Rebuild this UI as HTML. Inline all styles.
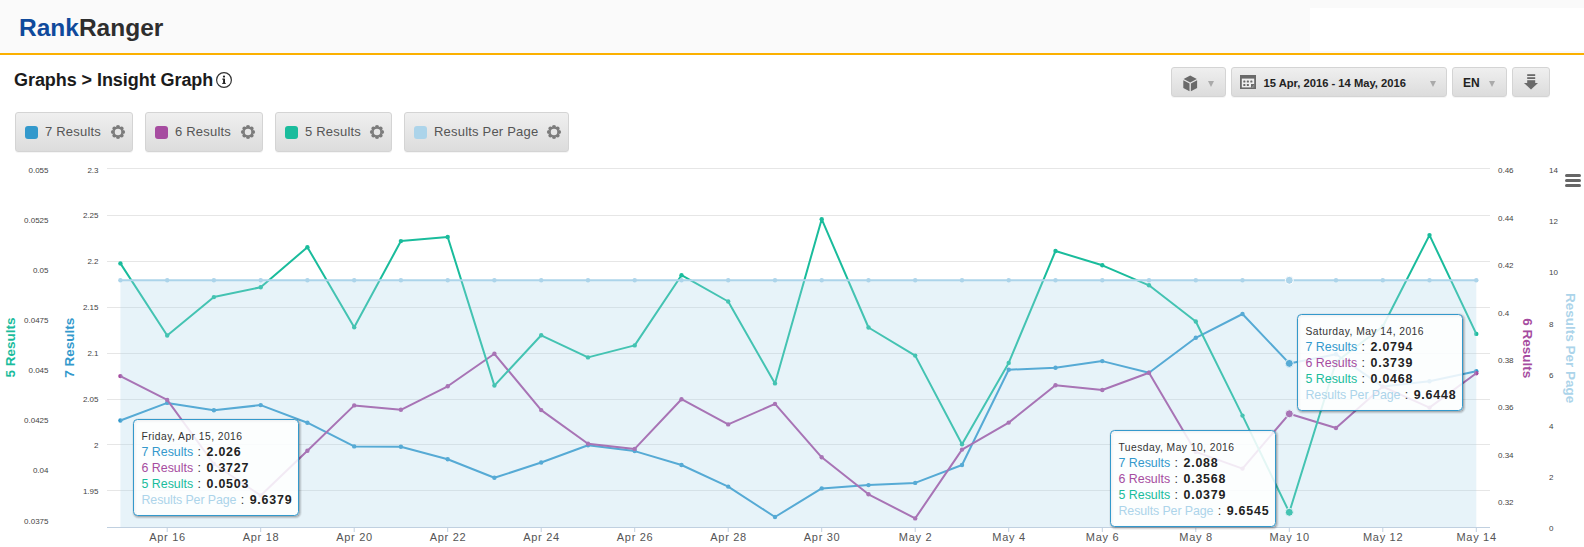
<!DOCTYPE html>
<html><head><meta charset="utf-8">
<style>
*{margin:0;padding:0;box-sizing:border-box}
html,body{width:1584px;height:547px;overflow:hidden;background:#fff;font-family:"Liberation Sans",sans-serif}
svg text{font-family:"Liberation Sans",sans-serif}
.hdr{position:absolute;left:0;top:0;width:1584px;height:53px;background:#fafafa}
.hdr .wh{position:absolute;left:1310px;top:8px;width:274px;height:43px;background:#fff}
.hdr .ln{position:absolute;left:0;top:53px;width:1584px;height:2px;background:#fbb000}
.logo{position:absolute;left:19px;top:13px;font-size:24.5px;font-weight:bold;letter-spacing:0px;white-space:nowrap;line-height:30px}
.logo .a{color:#0f4a9c}.logo .b{color:#2e2e2e}
.title{position:absolute;left:14px;top:69px;font-size:18px;font-weight:bold;color:#1b1b1b;white-space:nowrap;line-height:22px;letter-spacing:-0.06px}
.btn{position:absolute;border:1px solid #d4d4d4;border-radius:3px;background:linear-gradient(#efefef,#dcdcdc);box-shadow:0 1px 0 rgba(0,0,0,0.04)}
.lg{top:112px;height:40px}
.lg .sq{position:absolute;left:9px;top:13px;width:13px;height:13px;border-radius:3px}
.lg .tx{position:absolute;left:29px;top:11px;font-size:13px;color:#555;white-space:nowrap;line-height:16px;letter-spacing:0.2px}
.lg svg{position:absolute;top:12px}
.tb{top:67px;height:30px}
.arr{position:absolute;top:13px;width:0;height:0;border-left:3.5px solid transparent;border-right:3.5px solid transparent;border-top:6px solid #aaa}
</style></head><body>
<div class="hdr"><div class="wh"></div><div class="ln"></div>
<div class="logo"><span class="a">Rank</span><span class="b">Ranger</span></div></div>
<div class="title">Graphs &gt; Insight Graph</div>
<svg style="position:absolute;left:216px;top:72px" width="16" height="16" viewBox="0 0 16 16"><circle cx="8" cy="8" r="7.4" fill="none" stroke="#333" stroke-width="1.2"/><circle cx="8" cy="4.6" r="1.1" fill="#222"/><rect x="7.1" y="6.6" width="1.9" height="5" fill="#222"/><rect x="6.2" y="10.9" width="3.6" height="1" fill="#222"/><rect x="6.2" y="6.6" width="1.5" height="1" fill="#222"/></svg>

<!-- legend buttons -->
<div class="btn lg" style="left:15px;width:118px"><div class="sq" style="background:#3399cc"></div><div class="tx">7 Results</div><svg style="position:absolute;right:6px;top:11px" width="16" height="16" viewBox="-8 -8 16 16"><g fill="#7b7b7b"><circle r="4.4"/><circle cx="5.05" cy="0.00" r="2.05"/><circle cx="3.57" cy="3.57" r="2.05"/><circle cx="0.00" cy="5.05" r="2.05"/><circle cx="-3.57" cy="3.57" r="2.05"/><circle cx="-5.05" cy="0.00" r="2.05"/><circle cx="-3.57" cy="-3.57" r="2.05"/><circle cx="-0.00" cy="-5.05" r="2.05"/><circle cx="3.57" cy="-3.57" r="2.05"/></g><circle r="3.25" fill="#e6e6e6"/></svg></div>
<div class="btn lg" style="left:145px;width:118px"><div class="sq" style="background:#a64ca0"></div><div class="tx">6 Results</div><svg style="position:absolute;right:6px;top:11px" width="16" height="16" viewBox="-8 -8 16 16"><g fill="#7b7b7b"><circle r="4.4"/><circle cx="5.05" cy="0.00" r="2.05"/><circle cx="3.57" cy="3.57" r="2.05"/><circle cx="0.00" cy="5.05" r="2.05"/><circle cx="-3.57" cy="3.57" r="2.05"/><circle cx="-5.05" cy="0.00" r="2.05"/><circle cx="-3.57" cy="-3.57" r="2.05"/><circle cx="-0.00" cy="-5.05" r="2.05"/><circle cx="3.57" cy="-3.57" r="2.05"/></g><circle r="3.25" fill="#e6e6e6"/></svg></div>
<div class="btn lg" style="left:275px;width:117px"><div class="sq" style="background:#1abc9c"></div><div class="tx">5 Results</div><svg style="position:absolute;right:6px;top:11px" width="16" height="16" viewBox="-8 -8 16 16"><g fill="#7b7b7b"><circle r="4.4"/><circle cx="5.05" cy="0.00" r="2.05"/><circle cx="3.57" cy="3.57" r="2.05"/><circle cx="0.00" cy="5.05" r="2.05"/><circle cx="-3.57" cy="3.57" r="2.05"/><circle cx="-5.05" cy="0.00" r="2.05"/><circle cx="-3.57" cy="-3.57" r="2.05"/><circle cx="-0.00" cy="-5.05" r="2.05"/><circle cx="3.57" cy="-3.57" r="2.05"/></g><circle r="3.25" fill="#e6e6e6"/></svg></div>
<div class="btn lg" style="left:404px;width:165px"><div class="sq" style="background:#acd4ea"></div><div class="tx">Results Per Page</div><svg style="position:absolute;right:6px;top:11px" width="16" height="16" viewBox="-8 -8 16 16"><g fill="#7b7b7b"><circle r="4.4"/><circle cx="5.05" cy="0.00" r="2.05"/><circle cx="3.57" cy="3.57" r="2.05"/><circle cx="0.00" cy="5.05" r="2.05"/><circle cx="-3.57" cy="3.57" r="2.05"/><circle cx="-5.05" cy="0.00" r="2.05"/><circle cx="-3.57" cy="-3.57" r="2.05"/><circle cx="-0.00" cy="-5.05" r="2.05"/><circle cx="3.57" cy="-3.57" r="2.05"/></g><circle r="3.25" fill="#e6e6e6"/></svg></div>

<!-- toolbar -->
<div class="btn tb" style="left:1171px;width:55px">
<svg style="position:absolute;left:11px;top:7px" width="15" height="17" viewBox="0 0 15 17"><path d="M7.2 0.6 L13.8 4 L7.2 7.4 L0.6 4 Z" fill="#6a6a6a"/><path d="M0.3 5.3 L6.5 8.5 L6.5 16.3 L0.3 13.1 Z" fill="#6a6a6a"/><path d="M14.1 5.3 L7.9 8.5 L7.9 16.3 L14.1 13.1 Z" fill="#6a6a6a"/></svg>
<div class="arr" style="left:36px"></div></div>
<div class="btn tb" style="left:1231px;width:216px">
<svg style="position:absolute;left:8px;top:7px" width="17" height="15" viewBox="0 0 17 15"><rect x="0" y="0" width="16" height="14" fill="#6a6a6a"/><rect x="1.8" y="3.6" width="12.4" height="8.8" fill="#f0f0f0"/><g fill="#6a6a6a"><rect x="3.3" y="5.5" width="2.1" height="2.1" rx="0.5"/><rect x="6.8" y="5.5" width="2.1" height="2.1" rx="0.5"/><rect x="10.3" y="5.5" width="2.1" height="2.1" rx="0.5"/><rect x="3.3" y="8.9" width="2.1" height="2.1" rx="0.5"/><rect x="6.8" y="8.9" width="2.1" height="2.1" rx="0.5"/><rect x="11" y="9" width="3.5" height="3.6"/></g><path d="M12.3 12.2 L13.6 10.3 L13.9 10.6 L12.8 12.3 Z" fill="#eee"/></svg>
<div style="position:absolute;left:31.5px;top:8px;font-size:11.2px;font-weight:bold;color:#222;white-space:nowrap;line-height:14px">15 Apr, 2016 - 14 May, 2016</div>
<div class="arr" style="left:198px"></div></div>
<div class="btn tb" style="left:1452px;width:55px">
<div style="position:absolute;left:10px;top:8px;font-size:12px;font-weight:bold;color:#222;line-height:15px">EN</div>
<div class="arr" style="left:36px"></div></div>
<div class="btn tb" style="left:1512px;width:38px">
<svg style="position:absolute;left:11px;top:6px" width="15" height="17" viewBox="0 0 15 17"><g fill="#6a6a6a"><rect x="3.2" y="0.2" width="8" height="1.8"/><rect x="3.2" y="3.2" width="8" height="1.8"/><rect x="3.2" y="6.2" width="8" height="3"/><path d="M0 9 L14 9 L7 15.6 Z"/></g></svg>
</div>
<svg width="1584" height="547" viewBox="0 0 1584 547" style="position:absolute;left:0;top:0">
<rect x="107" y="168" width="1383" height="1" fill="#e6e6e6"/>
<rect x="107" y="215" width="1383" height="1" fill="#e6e6e6"/>
<rect x="107" y="261" width="1383" height="1" fill="#e6e6e6"/>
<rect x="107" y="307" width="1383" height="1" fill="#e6e6e6"/>
<rect x="107" y="353" width="1383" height="1" fill="#e6e6e6"/>
<rect x="107" y="399" width="1383" height="1" fill="#e6e6e6"/>
<rect x="107" y="444" width="1383" height="1" fill="#e6e6e6"/>
<rect x="107" y="490" width="1383" height="1" fill="#e6e6e6"/>
<rect x="107" y="527" width="1383" height="1" fill="#c0d0e0"/>
<rect x="166.7" y="528" width="1" height="4" fill="#c0d0e0"/>
<rect x="260.2" y="528" width="1" height="4" fill="#c0d0e0"/>
<rect x="353.7" y="528" width="1" height="4" fill="#c0d0e0"/>
<rect x="447.2" y="528" width="1" height="4" fill="#c0d0e0"/>
<rect x="540.7" y="528" width="1" height="4" fill="#c0d0e0"/>
<rect x="634.2" y="528" width="1" height="4" fill="#c0d0e0"/>
<rect x="727.7" y="528" width="1" height="4" fill="#c0d0e0"/>
<rect x="821.2" y="528" width="1" height="4" fill="#c0d0e0"/>
<rect x="914.7" y="528" width="1" height="4" fill="#c0d0e0"/>
<rect x="1008.2" y="528" width="1" height="4" fill="#c0d0e0"/>
<rect x="1101.8" y="528" width="1" height="4" fill="#c0d0e0"/>
<rect x="1195.3" y="528" width="1" height="4" fill="#c0d0e0"/>
<rect x="1288.8" y="528" width="1" height="4" fill="#c0d0e0"/>
<rect x="1382.3" y="528" width="1" height="4" fill="#c0d0e0"/>
<rect x="1475.8" y="528" width="1" height="4" fill="#c0d0e0"/>
<path d="M120.4 420.5 L167.2 402.9 L213.9 410.3 L260.7 405.1 L307.4 422.7 L354.2 446.4 L400.9 446.7 L447.7 459.2 L494.4 477.8 L541.2 462.5 L588.0 445.3 L634.7 451.1 L681.5 465.0 L728.2 486.6 L775.0 517.0 L821.7 488.4 L868.5 485.1 L915.2 482.9 L962.0 465.0 L1008.7 369.7 L1055.5 367.7 L1102.3 361.1 L1149.0 372.8 L1195.8 337.8 L1242.5 314.0 L1289.3 363.4 L1336.0 354.2 L1382.8 386.6 L1429.5 381.3 L1476.3 371.3" fill="none" stroke="#3399cc" stroke-width="2" stroke-linejoin="round" stroke-linecap="round"/>
<circle cx="120.4" cy="420.5" r="2.2" fill="#3399cc"/><circle cx="167.2" cy="402.9" r="2.2" fill="#3399cc"/><circle cx="213.9" cy="410.3" r="2.2" fill="#3399cc"/><circle cx="260.7" cy="405.1" r="2.2" fill="#3399cc"/><circle cx="307.4" cy="422.7" r="2.2" fill="#3399cc"/><circle cx="354.2" cy="446.4" r="2.2" fill="#3399cc"/><circle cx="400.9" cy="446.7" r="2.2" fill="#3399cc"/><circle cx="447.7" cy="459.2" r="2.2" fill="#3399cc"/><circle cx="494.4" cy="477.8" r="2.2" fill="#3399cc"/><circle cx="541.2" cy="462.5" r="2.2" fill="#3399cc"/><circle cx="588.0" cy="445.3" r="2.2" fill="#3399cc"/><circle cx="634.7" cy="451.1" r="2.2" fill="#3399cc"/><circle cx="681.5" cy="465.0" r="2.2" fill="#3399cc"/><circle cx="728.2" cy="486.6" r="2.2" fill="#3399cc"/><circle cx="775.0" cy="517.0" r="2.2" fill="#3399cc"/><circle cx="821.7" cy="488.4" r="2.2" fill="#3399cc"/><circle cx="868.5" cy="485.1" r="2.2" fill="#3399cc"/><circle cx="915.2" cy="482.9" r="2.2" fill="#3399cc"/><circle cx="962.0" cy="465.0" r="2.2" fill="#3399cc"/><circle cx="1008.7" cy="369.7" r="2.2" fill="#3399cc"/><circle cx="1055.5" cy="367.7" r="2.2" fill="#3399cc"/><circle cx="1102.3" cy="361.1" r="2.2" fill="#3399cc"/><circle cx="1149.0" cy="372.8" r="2.2" fill="#3399cc"/><circle cx="1195.8" cy="337.8" r="2.2" fill="#3399cc"/><circle cx="1242.5" cy="314.0" r="2.2" fill="#3399cc"/><circle cx="1336.0" cy="354.2" r="2.2" fill="#3399cc"/><circle cx="1382.8" cy="386.6" r="2.2" fill="#3399cc"/><circle cx="1429.5" cy="381.3" r="2.2" fill="#3399cc"/><circle cx="1476.3" cy="371.3" r="2.2" fill="#3399cc"/>
<path d="M120.4 376.1 L167.2 399.9 L213.9 464.0 L260.7 495.5 L307.4 450.7 L354.2 405.4 L400.9 409.8 L447.7 386.3 L494.4 353.8 L541.2 410.1 L588.0 443.8 L634.7 448.9 L681.5 399.2 L728.2 424.4 L775.0 403.9 L821.7 457.3 L868.5 494.3 L915.2 518.4 L962.0 449.6 L1008.7 422.6 L1055.5 385.2 L1102.3 390.0 L1149.0 372.8 L1195.8 451.9 L1242.5 468.6 L1289.3 413.8 L1336.0 428.0 L1382.8 386.6 L1429.5 407.6 L1476.3 373.3" fill="none" stroke="#a64ca0" stroke-width="2" stroke-linejoin="round" stroke-linecap="round"/>
<circle cx="120.4" cy="376.1" r="2.2" fill="#a64ca0"/><circle cx="167.2" cy="399.9" r="2.2" fill="#a64ca0"/><circle cx="213.9" cy="464.0" r="2.2" fill="#a64ca0"/><circle cx="260.7" cy="495.5" r="2.2" fill="#a64ca0"/><circle cx="307.4" cy="450.7" r="2.2" fill="#a64ca0"/><circle cx="354.2" cy="405.4" r="2.2" fill="#a64ca0"/><circle cx="400.9" cy="409.8" r="2.2" fill="#a64ca0"/><circle cx="447.7" cy="386.3" r="2.2" fill="#a64ca0"/><circle cx="494.4" cy="353.8" r="2.2" fill="#a64ca0"/><circle cx="541.2" cy="410.1" r="2.2" fill="#a64ca0"/><circle cx="588.0" cy="443.8" r="2.2" fill="#a64ca0"/><circle cx="634.7" cy="448.9" r="2.2" fill="#a64ca0"/><circle cx="681.5" cy="399.2" r="2.2" fill="#a64ca0"/><circle cx="728.2" cy="424.4" r="2.2" fill="#a64ca0"/><circle cx="775.0" cy="403.9" r="2.2" fill="#a64ca0"/><circle cx="821.7" cy="457.3" r="2.2" fill="#a64ca0"/><circle cx="868.5" cy="494.3" r="2.2" fill="#a64ca0"/><circle cx="915.2" cy="518.4" r="2.2" fill="#a64ca0"/><circle cx="962.0" cy="449.6" r="2.2" fill="#a64ca0"/><circle cx="1008.7" cy="422.6" r="2.2" fill="#a64ca0"/><circle cx="1055.5" cy="385.2" r="2.2" fill="#a64ca0"/><circle cx="1102.3" cy="390.0" r="2.2" fill="#a64ca0"/><circle cx="1149.0" cy="372.8" r="2.2" fill="#a64ca0"/><circle cx="1195.8" cy="451.9" r="2.2" fill="#a64ca0"/><circle cx="1242.5" cy="468.6" r="2.2" fill="#a64ca0"/><circle cx="1336.0" cy="428.0" r="2.2" fill="#a64ca0"/><circle cx="1382.8" cy="386.6" r="2.2" fill="#a64ca0"/><circle cx="1429.5" cy="407.6" r="2.2" fill="#a64ca0"/><circle cx="1476.3" cy="373.3" r="2.2" fill="#a64ca0"/>
<path d="M120.4 263.4 L167.2 335.5 L213.9 297.1 L260.7 287.2 L307.4 247.2 L354.2 327.3 L400.9 241.1 L447.7 237.0 L494.4 385.6 L541.2 335.3 L588.0 357.4 L634.7 345.4 L681.5 275.2 L728.2 301.5 L775.0 383.4 L821.7 219.2 L868.5 327.5 L915.2 355.6 L962.0 444.2 L1008.7 362.9 L1055.5 251.0 L1102.3 265.3 L1149.0 285.3 L1195.8 321.5 L1242.5 415.6 L1289.3 512.3 L1336.0 362.0 L1382.8 326.5 L1429.5 235.1 L1476.3 333.9" fill="none" stroke="#1abc9c" stroke-width="2" stroke-linejoin="round" stroke-linecap="round"/>
<circle cx="120.4" cy="263.4" r="2.2" fill="#1abc9c"/><circle cx="167.2" cy="335.5" r="2.2" fill="#1abc9c"/><circle cx="213.9" cy="297.1" r="2.2" fill="#1abc9c"/><circle cx="260.7" cy="287.2" r="2.2" fill="#1abc9c"/><circle cx="307.4" cy="247.2" r="2.2" fill="#1abc9c"/><circle cx="354.2" cy="327.3" r="2.2" fill="#1abc9c"/><circle cx="400.9" cy="241.1" r="2.2" fill="#1abc9c"/><circle cx="447.7" cy="237.0" r="2.2" fill="#1abc9c"/><circle cx="494.4" cy="385.6" r="2.2" fill="#1abc9c"/><circle cx="541.2" cy="335.3" r="2.2" fill="#1abc9c"/><circle cx="588.0" cy="357.4" r="2.2" fill="#1abc9c"/><circle cx="634.7" cy="345.4" r="2.2" fill="#1abc9c"/><circle cx="681.5" cy="275.2" r="2.2" fill="#1abc9c"/><circle cx="728.2" cy="301.5" r="2.2" fill="#1abc9c"/><circle cx="775.0" cy="383.4" r="2.2" fill="#1abc9c"/><circle cx="821.7" cy="219.2" r="2.2" fill="#1abc9c"/><circle cx="868.5" cy="327.5" r="2.2" fill="#1abc9c"/><circle cx="915.2" cy="355.6" r="2.2" fill="#1abc9c"/><circle cx="962.0" cy="444.2" r="2.2" fill="#1abc9c"/><circle cx="1008.7" cy="362.9" r="2.2" fill="#1abc9c"/><circle cx="1055.5" cy="251.0" r="2.2" fill="#1abc9c"/><circle cx="1102.3" cy="265.3" r="2.2" fill="#1abc9c"/><circle cx="1149.0" cy="285.3" r="2.2" fill="#1abc9c"/><circle cx="1195.8" cy="321.5" r="2.2" fill="#1abc9c"/><circle cx="1242.5" cy="415.6" r="2.2" fill="#1abc9c"/><circle cx="1336.0" cy="362.0" r="2.2" fill="#1abc9c"/><circle cx="1382.8" cy="326.5" r="2.2" fill="#1abc9c"/><circle cx="1429.5" cy="235.1" r="2.2" fill="#1abc9c"/><circle cx="1476.3" cy="333.9" r="2.2" fill="#1abc9c"/>
<circle cx="1289.3" cy="363.4" r="4" fill="#3399cc" stroke="#fff" stroke-width="1"/>
<circle cx="1289.3" cy="413.8" r="4" fill="#a64ca0" stroke="#fff" stroke-width="1"/>
<circle cx="1289.3" cy="512.3" r="4" fill="#1abc9c" stroke="#fff" stroke-width="1"/>
<rect x="120.4" y="280.3" width="1355.9" height="246.7" fill="#acd4ea" fill-opacity="0.29"/>
<line x1="120.4" y1="280.3" x2="1476.3" y2="280.3" stroke="#acd4ea" stroke-width="2"/>
<circle cx="120.4" cy="280.3" r="2.2" fill="#acd4ea"/><circle cx="167.2" cy="280.3" r="2.2" fill="#acd4ea"/><circle cx="213.9" cy="280.3" r="2.2" fill="#acd4ea"/><circle cx="260.7" cy="280.3" r="2.2" fill="#acd4ea"/><circle cx="307.4" cy="280.3" r="2.2" fill="#acd4ea"/><circle cx="354.2" cy="280.3" r="2.2" fill="#acd4ea"/><circle cx="400.9" cy="280.3" r="2.2" fill="#acd4ea"/><circle cx="447.7" cy="280.3" r="2.2" fill="#acd4ea"/><circle cx="494.4" cy="280.3" r="2.2" fill="#acd4ea"/><circle cx="541.2" cy="280.3" r="2.2" fill="#acd4ea"/><circle cx="588.0" cy="280.3" r="2.2" fill="#acd4ea"/><circle cx="634.7" cy="280.3" r="2.2" fill="#acd4ea"/><circle cx="681.5" cy="280.3" r="2.2" fill="#acd4ea"/><circle cx="728.2" cy="280.3" r="2.2" fill="#acd4ea"/><circle cx="775.0" cy="280.3" r="2.2" fill="#acd4ea"/><circle cx="821.7" cy="280.3" r="2.2" fill="#acd4ea"/><circle cx="868.5" cy="280.3" r="2.2" fill="#acd4ea"/><circle cx="915.2" cy="280.3" r="2.2" fill="#acd4ea"/><circle cx="962.0" cy="280.3" r="2.2" fill="#acd4ea"/><circle cx="1008.7" cy="280.3" r="2.2" fill="#acd4ea"/><circle cx="1055.5" cy="280.3" r="2.2" fill="#acd4ea"/><circle cx="1102.3" cy="280.3" r="2.2" fill="#acd4ea"/><circle cx="1149.0" cy="280.3" r="2.2" fill="#acd4ea"/><circle cx="1195.8" cy="280.3" r="2.2" fill="#acd4ea"/><circle cx="1242.5" cy="280.3" r="2.2" fill="#acd4ea"/><circle cx="1336.0" cy="280.3" r="2.2" fill="#acd4ea"/><circle cx="1382.8" cy="280.3" r="2.2" fill="#acd4ea"/><circle cx="1429.5" cy="280.3" r="2.2" fill="#acd4ea"/><circle cx="1476.3" cy="280.3" r="2.2" fill="#acd4ea"/>
<circle cx="1289.3" cy="280.3" r="4" fill="#acd4ea" stroke="#fff" stroke-width="1"/>
<text x="98.5" y="172.7" font-size="8" fill="#444" text-anchor="end" >2.3</text>
<text x="98.5" y="217.79999999999998" font-size="8" fill="#444" text-anchor="end" >2.25</text>
<text x="98.5" y="263.7" font-size="8" fill="#444" text-anchor="end" >2.2</text>
<text x="98.5" y="309.7" font-size="8" fill="#444" text-anchor="end" >2.15</text>
<text x="98.5" y="355.59999999999997" font-size="8" fill="#444" text-anchor="end" >2.1</text>
<text x="98.5" y="401.59999999999997" font-size="8" fill="#444" text-anchor="end" >2.05</text>
<text x="98.5" y="447.59999999999997" font-size="8" fill="#444" text-anchor="end" >2</text>
<text x="98.5" y="493.59999999999997" font-size="8" fill="#444" text-anchor="end" >1.95</text>
<text x="48.5" y="172.7" font-size="8" fill="#444" text-anchor="end" >0.055</text>
<text x="48.5" y="222.82999999999998" font-size="8" fill="#444" text-anchor="end" >0.0525</text>
<text x="48.5" y="272.96" font-size="8" fill="#444" text-anchor="end" >0.05</text>
<text x="48.5" y="323.09000000000003" font-size="8" fill="#444" text-anchor="end" >0.0475</text>
<text x="48.5" y="373.22" font-size="8" fill="#444" text-anchor="end" >0.045</text>
<text x="48.5" y="423.35" font-size="8" fill="#444" text-anchor="end" >0.0425</text>
<text x="48.5" y="473.48" font-size="8" fill="#444" text-anchor="end" >0.04</text>
<text x="48.5" y="523.61" font-size="8" fill="#444" text-anchor="end" >0.0375</text>
<text x="1498" y="173.3" font-size="8" fill="#444" text-anchor="start" >0.46</text>
<text x="1498" y="220.70000000000002" font-size="8" fill="#444" text-anchor="start" >0.44</text>
<text x="1498" y="268.1" font-size="8" fill="#444" text-anchor="start" >0.42</text>
<text x="1498" y="315.5" font-size="8" fill="#444" text-anchor="start" >0.4</text>
<text x="1498" y="362.90000000000003" font-size="8" fill="#444" text-anchor="start" >0.38</text>
<text x="1498" y="410.3" font-size="8" fill="#444" text-anchor="start" >0.36</text>
<text x="1498" y="457.7" font-size="8" fill="#444" text-anchor="start" >0.34</text>
<text x="1498" y="505.1" font-size="8" fill="#444" text-anchor="start" >0.32</text>
<text x="1549" y="173.10000000000002" font-size="8" fill="#444" text-anchor="start" >14</text>
<text x="1549" y="224.27000000000004" font-size="8" fill="#444" text-anchor="start" >12</text>
<text x="1549" y="275.44" font-size="8" fill="#444" text-anchor="start" >10</text>
<text x="1549" y="326.61" font-size="8" fill="#444" text-anchor="start" >8</text>
<text x="1549" y="377.78000000000003" font-size="8" fill="#444" text-anchor="start" >6</text>
<text x="1549" y="428.95000000000005" font-size="8" fill="#444" text-anchor="start" >4</text>
<text x="1549" y="480.12" font-size="8" fill="#444" text-anchor="start" >2</text>
<text x="1549" y="531.29" font-size="8" fill="#444" text-anchor="start" >0</text>
<text x="167.5" y="541" font-size="11" fill="#555" text-anchor="middle" letter-spacing="0.7">Apr 16</text>
<text x="261.0" y="541" font-size="11" fill="#555" text-anchor="middle" letter-spacing="0.7">Apr 18</text>
<text x="354.5" y="541" font-size="11" fill="#555" text-anchor="middle" letter-spacing="0.7">Apr 20</text>
<text x="448.0" y="541" font-size="11" fill="#555" text-anchor="middle" letter-spacing="0.7">Apr 22</text>
<text x="541.5" y="541" font-size="11" fill="#555" text-anchor="middle" letter-spacing="0.7">Apr 24</text>
<text x="635.1" y="541" font-size="11" fill="#555" text-anchor="middle" letter-spacing="0.7">Apr 26</text>
<text x="728.6" y="541" font-size="11" fill="#555" text-anchor="middle" letter-spacing="0.7">Apr 28</text>
<text x="822.1" y="541" font-size="11" fill="#555" text-anchor="middle" letter-spacing="0.7">Apr 30</text>
<text x="915.6" y="541" font-size="11" fill="#555" text-anchor="middle" letter-spacing="0.7">May 2</text>
<text x="1009.1" y="541" font-size="11" fill="#555" text-anchor="middle" letter-spacing="0.7">May 4</text>
<text x="1102.6" y="541" font-size="11" fill="#555" text-anchor="middle" letter-spacing="0.7">May 6</text>
<text x="1196.1" y="541" font-size="11" fill="#555" text-anchor="middle" letter-spacing="0.7">May 8</text>
<text x="1289.6" y="541" font-size="11" fill="#555" text-anchor="middle" letter-spacing="0.7">May 10</text>
<text x="1383.1" y="541" font-size="11" fill="#555" text-anchor="middle" letter-spacing="0.7">May 12</text>
<text x="1476.6" y="541" font-size="11" fill="#555" text-anchor="middle" letter-spacing="0.7">May 14</text>
<text transform="translate(15 347.5) rotate(-90)" font-size="13.5" font-weight="bold" fill="#1abc9c" text-anchor="middle">5 Results</text>
<text transform="translate(74.3 347.7) rotate(-90)" font-size="13.5" font-weight="bold" fill="#3399cc" text-anchor="middle">7 Results</text>
<text transform="translate(1523.3 348.2) rotate(90)" font-size="13.5" font-weight="bold" fill="#a64ca0" text-anchor="middle">6 Results</text>
<text transform="translate(1565.5 348.1) rotate(90)" font-size="13.5" font-weight="bold" fill="#acd4ea" text-anchor="middle">Results Per Page</text>
<rect x="1565" y="174" width="16" height="3" rx="1.5" fill="#666"/>
<rect x="1565" y="179" width="16" height="3" rx="1.5" fill="#666"/>
<rect x="1565" y="184" width="16" height="3" rx="1.5" fill="#666"/>
<rect x="133.5" y="419.5" width="165" height="96" rx="4" fill="none" stroke="#000" stroke-opacity="0.05" stroke-width="5" transform="translate(1 1)"/><rect x="133.5" y="419.5" width="165" height="96" rx="4" fill="none" stroke="#000" stroke-opacity="0.1" stroke-width="3" transform="translate(1 1)"/><rect x="133.5" y="419.5" width="165" height="96" rx="4" fill="none" stroke="#000" stroke-opacity="0.15" stroke-width="1" transform="translate(1 1)"/><rect x="133.5" y="419.5" width="165" height="96" rx="4" fill="#fff" fill-opacity="0.85" stroke="#3399cc" stroke-width="1"/><text x="141.5" y="440.0" font-size="10.3" fill="#333" letter-spacing="0.45">Friday, Apr 15, 2016</text><text x="141.5" y="455.7" font-size="12.4"><tspan fill="#3399cc">7 Results</tspan><tspan fill="#333" letter-spacing="1">&#160;:&#160;</tspan><tspan fill="#222" font-weight="bold" letter-spacing="0.8">2.026</tspan></text><text x="141.5" y="471.7" font-size="12.4"><tspan fill="#a64ca0">6 Results</tspan><tspan fill="#333" letter-spacing="1">&#160;:&#160;</tspan><tspan fill="#222" font-weight="bold" letter-spacing="0.8">0.3727</tspan></text><text x="141.5" y="487.7" font-size="12.4"><tspan fill="#1abc9c">5 Results</tspan><tspan fill="#333" letter-spacing="1">&#160;:&#160;</tspan><tspan fill="#222" font-weight="bold" letter-spacing="0.8">0.0503</tspan></text><text x="141.5" y="503.7" font-size="12.4"><tspan fill="#acd4ea" letter-spacing="-0.1">Results Per Page</tspan><tspan fill="#333" letter-spacing="1">&#160;:&#160;</tspan><tspan fill="#222" font-weight="bold" letter-spacing="0.8">9.6379</tspan></text>
<rect x="1110.5" y="430.5" width="165" height="96" rx="4" fill="none" stroke="#000" stroke-opacity="0.05" stroke-width="5" transform="translate(1 1)"/><rect x="1110.5" y="430.5" width="165" height="96" rx="4" fill="none" stroke="#000" stroke-opacity="0.1" stroke-width="3" transform="translate(1 1)"/><rect x="1110.5" y="430.5" width="165" height="96" rx="4" fill="none" stroke="#000" stroke-opacity="0.15" stroke-width="1" transform="translate(1 1)"/><rect x="1110.5" y="430.5" width="165" height="96" rx="4" fill="#fff" fill-opacity="0.85" stroke="#3399cc" stroke-width="1"/><text x="1118.5" y="451.0" font-size="10.3" fill="#333" letter-spacing="0.45">Tuesday, May 10, 2016</text><text x="1118.5" y="466.7" font-size="12.4"><tspan fill="#3399cc">7 Results</tspan><tspan fill="#333" letter-spacing="1">&#160;:&#160;</tspan><tspan fill="#222" font-weight="bold" letter-spacing="0.8">2.088</tspan></text><text x="1118.5" y="482.7" font-size="12.4"><tspan fill="#a64ca0">6 Results</tspan><tspan fill="#333" letter-spacing="1">&#160;:&#160;</tspan><tspan fill="#222" font-weight="bold" letter-spacing="0.8">0.3568</tspan></text><text x="1118.5" y="498.7" font-size="12.4"><tspan fill="#1abc9c">5 Results</tspan><tspan fill="#333" letter-spacing="1">&#160;:&#160;</tspan><tspan fill="#222" font-weight="bold" letter-spacing="0.8">0.0379</tspan></text><text x="1118.5" y="514.7" font-size="12.4"><tspan fill="#acd4ea" letter-spacing="-0.1">Results Per Page</tspan><tspan fill="#333" letter-spacing="1">&#160;:&#160;</tspan><tspan fill="#222" font-weight="bold" letter-spacing="0.8">9.6545</tspan></text>
<rect x="1297.5" y="314.5" width="165" height="96" rx="4" fill="none" stroke="#000" stroke-opacity="0.05" stroke-width="5" transform="translate(1 1)"/><rect x="1297.5" y="314.5" width="165" height="96" rx="4" fill="none" stroke="#000" stroke-opacity="0.1" stroke-width="3" transform="translate(1 1)"/><rect x="1297.5" y="314.5" width="165" height="96" rx="4" fill="none" stroke="#000" stroke-opacity="0.15" stroke-width="1" transform="translate(1 1)"/><rect x="1297.5" y="314.5" width="165" height="96" rx="4" fill="#fff" fill-opacity="0.85" stroke="#3399cc" stroke-width="1"/><text x="1305.5" y="335.0" font-size="10.3" fill="#333" letter-spacing="0.45">Saturday, May 14, 2016</text><text x="1305.5" y="350.7" font-size="12.4"><tspan fill="#3399cc">7 Results</tspan><tspan fill="#333" letter-spacing="1">&#160;:&#160;</tspan><tspan fill="#222" font-weight="bold" letter-spacing="0.8">2.0794</tspan></text><text x="1305.5" y="366.7" font-size="12.4"><tspan fill="#a64ca0">6 Results</tspan><tspan fill="#333" letter-spacing="1">&#160;:&#160;</tspan><tspan fill="#222" font-weight="bold" letter-spacing="0.8">0.3739</tspan></text><text x="1305.5" y="382.7" font-size="12.4"><tspan fill="#1abc9c">5 Results</tspan><tspan fill="#333" letter-spacing="1">&#160;:&#160;</tspan><tspan fill="#222" font-weight="bold" letter-spacing="0.8">0.0468</tspan></text><text x="1305.5" y="398.7" font-size="12.4"><tspan fill="#acd4ea" letter-spacing="-0.1">Results Per Page</tspan><tspan fill="#333" letter-spacing="1">&#160;:&#160;</tspan><tspan fill="#222" font-weight="bold" letter-spacing="0.8">9.6448</tspan></text>
</svg>
</body></html>
